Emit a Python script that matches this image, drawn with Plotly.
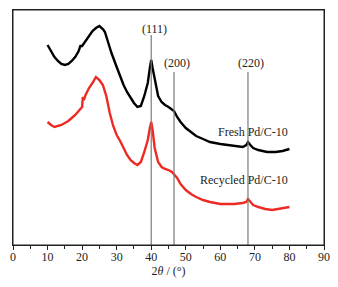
import plotly.graph_objects as go

# ---- data (2θ in degrees, intensity in arbitrary units) ----
fresh_x = [10, 11, 12, 13, 14, 15, 16, 17, 18, 19, 19.5, 20, 21, 22, 23, 24, 25, 26, 26.6,
           27.5, 28.5, 30, 31, 32, 33, 34, 35, 36, 37, 38, 39, 39.6, 40, 40.4, 41, 42, 43,
           44, 45, 46, 46.6, 47.5, 48.5, 50, 51.5, 53, 55, 57, 60, 62, 64, 66.5, 67.5, 68,
           68.7, 69.5, 71, 73.5, 76, 78, 80]
fresh_y = [200, 194, 188, 184, 181, 180, 181, 184, 188, 194, 199, 199, 204, 209, 214, 217,
           219, 216, 213, 203, 192, 178, 168, 160, 153, 147, 142, 138, 139, 149, 162, 177,
           185, 177, 165, 149, 143, 140, 138, 136, 134, 128, 123, 117, 113, 109, 106, 103,
           101, 100, 99, 98, 100, 103, 100, 97, 95, 93, 93, 94, 96]

recyc_x = [10, 11, 12, 13, 14, 15, 16, 17, 18, 19, 20, 20.2, 20.5, 21, 22, 23, 24, 25, 26,
           27, 28, 29, 30, 31, 32, 33, 34, 35, 36, 37, 38, 39, 39.6, 40, 40.4, 41, 42, 43,
           44, 45, 46, 46.6, 47.5, 48.5, 50, 51.5, 53, 55, 57, 60, 62, 64, 66.5, 67.5, 68,
           68.7, 69.5, 71, 73, 75, 77, 79, 80]
recyc_y = [123, 120, 118, 119, 120, 122, 124, 127, 130, 134, 138, 148, 145, 150, 157, 162,
           168, 165, 160, 149, 132, 119, 110, 104, 97, 90, 85, 82, 80, 83, 93, 105, 117,
           123, 115, 97, 83, 78, 76, 75, 73, 71, 67, 61, 55, 51, 48, 45, 43, 41, 41, 41,
           42, 43, 46, 43, 40, 38, 36, 35, 36, 37, 38]

peak_pos = [40, 46.6, 68]
peak_labels = ["(111)", "(200)", "(220)"]
peak_line_top = [210, 173, 173]
peak_label_y = [216, 182, 182]

series_names = ["Fresh Pd/C-10", "Recycled Pd/C-10"]
series_label_y = [113, 65]
x_ticks = [0, 10, 20, 30, 40, 50, 60, 70, 80, 90]

FONT = "Liberation Serif, Times New Roman, serif"

fig = go.Figure()
fig.add_trace(go.Scatter(x=fresh_x, y=fresh_y, mode="lines",
                         line=dict(color="#000000", width=2.4), name=series_names[0]))
fig.add_trace(go.Scatter(x=recyc_x, y=recyc_y, mode="lines",
                         line=dict(color="#ee2a24", width=2.4), name=series_names[1]))

# reference lines for Pd reflections
for px, top in zip(peak_pos, peak_line_top):
    fig.add_trace(go.Scatter(x=[px, px], y=[0, top], mode="lines",
                             line=dict(color="#7a7a7a", width=1.2),
                             showlegend=False, hoverinfo="skip"))

for px, lab, ly in zip(peak_pos, peak_labels, peak_label_y):
    fig.add_annotation(x=px, y=ly, text=lab, showarrow=False, xshift=3,
                       font=dict(family=FONT, size=12, color="#222"))

for name, ly in zip(series_names, series_label_y):
    fig.add_annotation(x=80.2, y=ly, text=name, showarrow=False, xanchor="right",
                       font=dict(family=FONT, size=12, color="#222"))

# frame around the plotting area
fig.add_shape(type="rect", xref="paper", yref="paper", x0=0, x1=1, y0=0, y1=1,
              line=dict(color="#222", width=1), layer="above")

# page body has an 8px default margin, so the figure is sized to fit inside it
fig.update_layout(
    width=330, height=279,
    margin=dict(l=5, r=14, t=2, b=42, autoexpand=False),
    plot_bgcolor="white", paper_bgcolor="white",
    showlegend=False,
    font=dict(family=FONT, size=12, color="#222"),
)
fig.update_xaxes(
    range=[0, 90], tickvals=x_ticks, ticks="outside", ticklen=4, tickwidth=1,
    tickcolor="#222", showline=True, linecolor="#222", linewidth=1, mirror=True,
    showgrid=False, zeroline=False, automargin=False, ticklabelstandoff=-3,
    minor=dict(ticks="outside", ticklen=3, dtick=5, tickcolor="#222", showgrid=False),
    title=dict(text="2<i>θ</i> / (°)", standoff=0, font=dict(family=FONT, size=12)),
    tickfont=dict(family=FONT, size=12),
)
fig.update_yaxes(
    range=[0, 235], showticklabels=False, ticks="", showline=True, linecolor="#222",
    linewidth=1, mirror=True, showgrid=False, zeroline=False, automargin=False,
)

fig.write_html("out.html")
